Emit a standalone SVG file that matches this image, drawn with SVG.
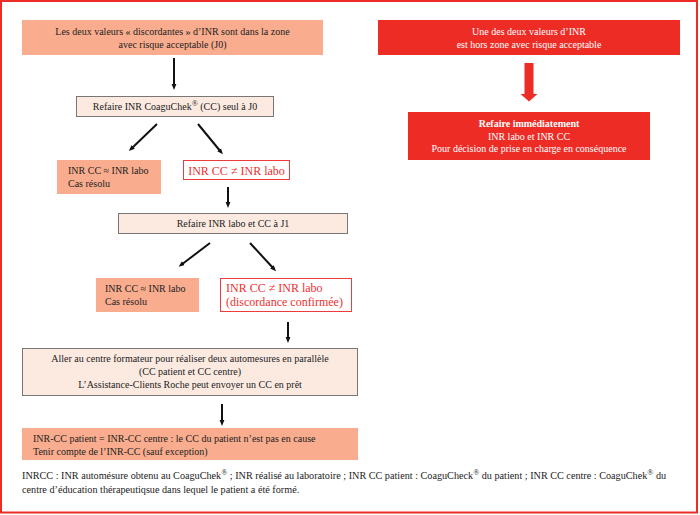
<svg xmlns="http://www.w3.org/2000/svg" width="700" height="515" viewBox="0 0 700 515">
<defs>
<style>
text{font-family:"Liberation Serif","Times New Roman",serif;font-size:10px;fill:#222}
.c{text-anchor:middle}
.salmon{fill:#F9AD8E;stroke:none}
.pale{fill:#FCEAE1;stroke:#777;stroke-width:1}
.redb{fill:#fff;stroke:#EE3B3B;stroke-width:1}
.red{fill:#EE2C26;stroke:none}
.rt{fill:#EE3030;font-size:12px}
.wt{fill:#fff}
.sup{font-size:8px}
.ar{stroke:#111;stroke-width:2;fill:none;marker-end:url(#ah)}
</style>
<marker id="ah" viewBox="0 0 10 10" refX="5" refY="5" markerWidth="3" markerHeight="3" orient="auto" markerUnits="strokeWidth">
<path d="M0,1 L10,5 L0,9 z" fill="#111"/>
</marker>
</defs>
<rect x="1" y="1" width="696" height="511.5" fill="#fff" stroke="#EE2C26" stroke-width="2"/>

<g id="n1"><rect class="salmon" x="22" y="20" width="301" height="35"/>
<text class="c" x="172.5" y="35">Les deux valeurs « discordantes » d’INR sont dans la zone</text>
<text class="c" x="172.5" y="48">avec risque acceptable (J0)</text></g>

<g id="n2"><rect class="pale" x="76.5" y="96.5" width="197" height="20"/>
<text class="c" x="175" y="110">Refaire INR CoaguChek<tspan class="sup" dy="-4">®</tspan><tspan dy="4"> (CC) seul à J0</tspan></text></g>

<g id="n3"><rect class="salmon" x="57" y="160" width="104" height="34"/>
<text x="68" y="174">INR CC ≈ INR labo</text>
<text x="68" y="187">Cas résolu</text></g>

<g id="n4"><rect class="redb" x="183.5" y="160.5" width="106" height="19"/>
<text class="rt c" x="236.5" y="175">INR CC ≠ INR labo</text></g>

<g id="n5"><rect class="pale" x="118.5" y="213.5" width="229" height="20"/>
<text class="c" x="233" y="227">Refaire INR labo et CC à J1</text></g>

<g id="n6"><rect class="salmon" x="96" y="278" width="103" height="34"/>
<text x="105" y="292">INR CC ≈ INR labo</text>
<text x="105" y="305">Cas résolu</text></g>

<g id="n7"><rect class="redb" x="220.5" y="278.5" width="131" height="33"/>
<text class="rt" x="226" y="292">INR CC ≠ INR labo</text>
<text class="rt" x="226" y="306">(discordance confirmée)</text></g>

<g id="n8"><rect class="pale" x="22.5" y="348.5" width="335" height="47"/>
<text class="c" x="190" y="362">Aller au centre formateur pour réaliser deux automesures en parallèle</text>
<text class="c" x="190" y="375">(CC patient et CC centre)</text>
<text class="c" x="190" y="388">L’Assistance-Clients Roche peut envoyer un CC en prêt</text></g>

<g id="n9"><rect class="salmon" x="22" y="428" width="336" height="32"/>
<text x="33" y="442">INR-CC patient = INR-CC centre : le CC du patient n’est pas en cause</text>
<text x="33" y="455">Tenir compte de l’INR-CC (sauf exception)</text></g>

<g id="n10"><rect class="red" x="378" y="20" width="302" height="35"/>
<text class="c wt" x="529" y="35">Une des deux valeurs d’INR</text>
<text class="c wt" x="529" y="48">est hors  zone avec risque acceptable</text></g>

<g id="n11"><rect class="red" x="408" y="112" width="242" height="48"/>
<text class="c wt" x="529" y="127" font-weight="bold">Refaire immédiatement</text>
<text class="c wt" x="529" y="140">INR labo et INR CC</text>
<text class="c wt" x="529" y="152">Pour décision de prise en charge  en conséquence</text></g>

<g id="connectors">
<line class="ar" x1="174" y1="58" x2="174" y2="87"/>
<line class="ar" x1="157" y1="124" x2="131" y2="149"/>
<line class="ar" x1="198" y1="124" x2="221" y2="152"/>
<line class="ar" x1="228" y1="187" x2="228" y2="205"/>
<line class="ar" x1="210" y1="243" x2="181" y2="265"/>
<line class="ar" x1="250" y1="243" x2="274" y2="269"/>
<line class="ar" x1="288" y1="322" x2="288" y2="340"/>
<line class="ar" x1="222" y1="404" x2="222" y2="423"/>
<path d="M524.5,63 H533.5 V94 H537.5 L529,101.5 L520.5,94 H524.5 Z" fill="#EE2C26"/>
</g>

<g id="footnote">
<text x="22" y="479" style="font-size:10.2px">INRCC : INR automésure obtenu au CoaguChek<tspan class="sup" dy="-4">®</tspan><tspan dy="4"> ; INR réalisé au laboratoire ; INR CC patient : CoaguCheck</tspan><tspan class="sup" dy="-4">®</tspan><tspan dy="4"> du patient ; INR CC centre : CoaguChek</tspan><tspan class="sup" dy="-4">®</tspan><tspan dy="4"> du</tspan></text>
<text x="22" y="493" style="font-size:10.2px">centre d’éducation thérapeutiqsue dans lequel le patient a été formé.</text>
</g>
</svg>
